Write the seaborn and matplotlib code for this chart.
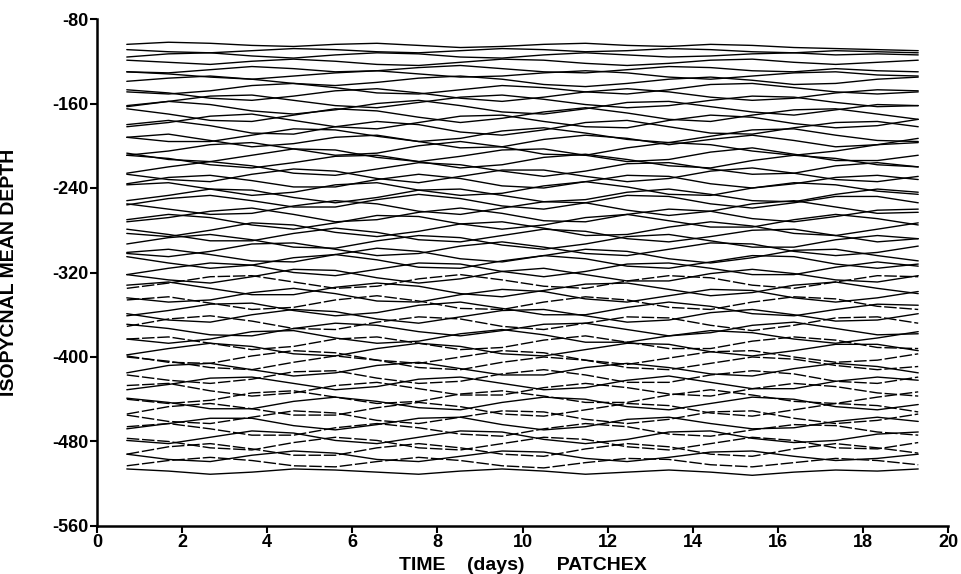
import matplotlib
matplotlib.use("Agg")
import matplotlib.pyplot as plt
import pandas as pd
import seaborn as sns

# ---------------- data ----------------
days = [0.7, 1.68, 2.66, 3.64, 4.62, 5.6, 6.58, 7.56, 8.54, 9.52,
        10.5, 11.48, 12.46, 13.44, 14.42, 15.4, 16.38, 17.36, 18.34, 19.3]

upper_means = [-104, -110, -115, -121, -127, -133, -139, -146, -152, -158, -164,
               -171, -177, -183, -190, -196, -203, -209, -215, -222, -228, -234]
upper_dev = [
    [0, 2, 1, -1, -2, 0, 1, -1, -3, -2, 0, 1, -1, -2, 0, -1, -3, -4, -5, -6],
    [1, -1, -2, 0, 2, 1, -1, -2, 0, 2, 1, -1, 0, 2, 1, -1, -2, 0, -1, -2],
    [-1, 2, 3, 0, -2, 1, 3, 2, -1, -2, 1, 3, 1, -1, 0, 2, 3, 1, 2, 1],
    [2, 0, -2, 1, 3, 1, -2, -3, 0, 3, 2, -1, -3, -1, 2, 3, 0, -2, 0, 2],
    [-3, -4, -1, 2, 0, -3, -2, 1, 3, 0, -3, -4, -1, 2, 1, -2, -3, 0, -2, -3],
    [3, 1, -2, -4, -1, 2, 4, 1, -2, -1, 2, 4, 2, -2, -4, -1, 2, 3, 0, -1],
    [0, 3, 5, 2, -2, -4, -1, 3, 5, 2, -3, -5, -2, 2, 4, 1, -3, -2, 2, 4],
    [-3, -5, -2, 3, 5, 1, -4, -5, -1, 3, 1, -3, -5, -1, 4, 5, 1, -3, -5, -3],
    [5, 2, -3, -5, -1, 4, 6, 2, -3, -6, -2, 3, 6, 3, -2, -5, -3, 2, 5, 4],
    [-4, 0, 5, 6, 1, -4, -6, -1, 4, 6, 2, -3, -6, -4, 1, 5, 4, -1, -5, -4],
    [1, 6, 3, -3, -6, -2, 4, 7, 2, -4, -6, -1, 5, 6, 1, -4, -7, -2, 3, 2],
    [6, 1, -5, -6, 0, 6, 4, -2, -7, -3, 3, 7, 2, -4, -6, 0, 5, 6, 1, -4],
    [-5, -1, 5, 7, 1, -5, -7, -1, 5, 6, 0, -5, -6, 1, 6, 4, -2, -6, -4, 2],
    [3, 7, 2, -5, -6, 1, 6, 3, -4, -7, -2, 5, 7, 1, -5, -6, 0, 5, 6, 1],
    [-2, -6, -6, 0, 6, 5, -1, -6, -3, 4, 7, 2, -4, -7, -1, 5, 6, 0, -5, -6],
    [4, 7, 1, -5, -2, 4, 6, 0, -6, -5, 2, 6, 3, -3, 2, 6, 1, -5, -3, 3],
    [-6, -2, 4, 6, 0, -6, -4, 3, 7, 2, -5, -6, 1, 6, 4, -2, -6, -2, 4, 6],
    [2, -4, -6, 0, 6, 5, -2, -6, -1, 5, 6, 0, -6, -4, 3, 7, 1, -5, -5, 0],
    [6, 3, -3, -6, -1, 5, 6, 0, -6, -3, 4, 7, 2, -4, -6, 1, 6, 3, -3, -5],
    [-4, 2, 7, 3, -4, -6, 0, 6, 4, -2, -7, -2, 5, 6, 0, -5, -4, 3, 6, 2],
    [1, -4, -6, 1, 6, 4, -3, -7, -1, 5, 5, -1, -6, -3, 4, 7, 2, -4, -6, -1],
    [-2, 4, 6, 1, -5, -5, 2, 7, 3, -4, -6, 0, 6, 5, -2, -6, -2, 4, 6, 2],
]

middle_means = [-241, -247, -253, -259, -266, -272, -279, -285, -291, -298, -304,
                -310, -317, -323, -329, -336, -342, -349, -355, -361, -368, -374]
middle_dev = [
    [4, 6, 0, -6, -3, 4, 6, -1, -6, -4, 3, 7, 2, -5, -6, 1, 6, 4, -2, -5],
    [-5, 0, 6, 5, -2, -7, -2, 5, 6, 0, -6, -4, 3, 6, 1, -5, -6, 1, 6, 3],
    [-3, 3, 6, 1, -5, -5, 2, 7, 3, -4, -7, -1, 6, 5, -2, -6, -1, 5, 5, -1],
    [4, -1, -6, -5, 2, 7, 4, -3, -6, 0, 6, 5, -2, -7, -3, 4, 7, 1, -5, -4],
    [-6, -2, 4, 7, 1, -6, -4, 3, 7, 2, -5, -6, 1, 6, 4, -3, -6, -1, 5, 6],
    [2, 7, 4, -3, -7, -1, 6, 5, -2, -7, -3, 4, 7, 1, -5, -5, 2, 7, 3, -3],
    [-4, -7, -1, 6, 4, -3, -7, -2, 5, 7, 1, -6, -5, 2, 7, 3, -4, -6, 0, 6],
    [6, 1, -5, -5, 2, 7, 3, -4, -6, 0, 6, 4, -3, -6, -1, 5, 6, 0, -6, -3],
    [-2, 4, 7, 2, -5, -6, 1, 6, 4, -3, -7, -2, 5, 7, 1, -5, -5, 2, 6, 3],
    [-4, -7, -2, 5, 6, 0, -6, -4, 3, 7, 2, -4, -6, 0, 6, 5, -2, -6, -3, 3],
    [3, 6, 1, -5, -6, 1, 7, 4, -3, -6, 0, 6, 4, -3, -7, -2, 5, 6, 0, -5],
    [5, -1, -6, -3, 4, 7, 2, -5, -6, 1, 6, 3, -4, -6, 0, 6, 5, -2, -6, -2],
    [-5, 1, 6, 4, -3, -6, 0, 6, 5, -2, -7, -2, 5, 6, 1, -5, -5, 2, 7, 3],
    [1, -4, -7, -1, 6, 5, -2, -7, -3, 4, 7, 1, -5, -5, 2, 6, 2, -4, -6, 0],
    [-6, -1, 5, 6, 0, -6, -4, 3, 7, 2, -4, -6, 1, 6, 4, -3, -6, 0, 6, 5],
    [4, 7, 1, -5, -5, 2, 6, 3, -4, -7, -1, 5, 6, 0, -6, -3, 4, 7, 1, -4],
    [-2, -6, -4, 3, 7, 2, -5, -6, 1, 6, 4, -3, -6, 0, 6, 5, -2, -6, -2, 4],
    [3, 6, 0, -6, -4, 3, 7, 2, -5, -6, 1, 6, 3, -4, -6, 1, 6, 4, -3, -6],
    [-6, -1, 5, 6, -1, -6, -3, 4, 7, 1, -5, -5, 2, 7, 3, -4, -6, 0, 5, 4],
    [2, -4, -6, 1, 6, 4, -3, -7, -1, 5, 6, 0, -6, -4, 3, 6, 1, -5, -4, 2],
    [-3, 4, 7, 2, -5, -6, 1, 6, 4, -3, -6, 0, 6, 5, -2, -7, -2, 5, 6, 0],
    [5, 1, -5, -6, 1, 6, 4, -2, -6, -1, 5, 6, 0, -6, -3, 4, 7, 1, -5, -4],
]

lower_means = [-381, -387, -393, -400, -406, -412, -419, -425, -431, -438, -444,
               -450, -457, -463, -469, -476, -482, -488, -494, -500, -506]
lower_dev = [
    [-2, -6, -2, 5, 6, -1, -6, -4, 3, 7, 2, -5, -5, 1, 6, 4, -2, -6, -1, 5],
    [4, 6, 0, -6, -3, 4, 6, 0, -6, -4, 3, 7, 1, -5, -5, 2, 6, 3, -4, -5],
    [-5, 1, 6, 3, -4, -6, 1, 6, 3, -4, -6, 0, 6, 5, -2, -6, -1, 5, 5, -1],
    [1, -5, -6, 1, 6, 4, -3, -6, 0, 6, 4, -3, -7, -1, 5, 6, 0, -5, -3, 3],
    [6, 2, -4, -6, 1, 7, 3, -4, -6, 1, 6, 3, -4, -6, 0, 6, 4, -2, -6, -3],
    [-3, 4, 6, 0, -6, -3, 4, 7, 1, -5, -5, 2, 6, 2, -4, -6, 1, 6, 3, -3],
    [2, -3, -6, -2, 5, 6, -1, -6, -4, 3, 7, 2, -5, -5, 2, 6, 3, -4, -6, 0],
    [-6, -1, 5, 6, 0, -6, -3, 4, 6, 0, -6, -4, 3, 7, 1, -5, -5, 2, 6, 3],
    [4, 6, -1, -6, -3, 4, 7, 1, -5, -5, 2, 6, 2, -4, -6, 1, 6, 3, -3, -6],
    [-2, -6, -3, 4, 6, 0, -6, -4, 3, 6, 1, -5, -5, 2, 7, 2, -4, -6, 0, 5],
    [5, 1, -5, -5, 2, 6, 2, -4, -6, 1, 6, 4, -3, -6, 0, 6, 4, -3, -6, -1],
    [-4, 3, 6, 1, -5, -5, 2, 7, 3, -4, -6, 0, 6, 4, -3, -6, 0, 6, 4, -2],
    [2, -4, -6, 0, 6, 4, -3, -6, 0, 6, 5, -2, -6, -2, 5, 6, -1, -6, -3, 3],
    [-5, 0, 5, 5, -2, -6, -1, 5, 6, -1, -6, -3, 4, 6, 0, -5, -4, 2, 6, 2],
    [3, 6, 1, -5, -5, 2, 6, 2, -4, -6, 1, 6, 3, -4, -6, 0, 5, 4, -2, -5],
    [-3, -6, 0, 6, 4, -3, -6, 0, 6, 5, -2, -6, -2, 5, 6, -1, -5, -3, 3, 5],
    [5, 2, -4, -6, 1, 6, 3, -4, -6, 0, 6, 4, -3, -6, 0, 6, 3, -4, -5, 1],
    [-4, 3, 6, 1, -5, -5, 2, 6, 2, -4, -6, 1, 6, 3, -4, -6, 1, 6, 2, -3],
    [2, -3, -5, 1, 5, 3, -3, -5, 0, 5, 4, -2, -5, -1, 4, 5, 0, -4, -2, 2],
    [-3, 2, 5, 2, -3, -4, 1, 5, 2, -3, -5, 0, 4, 3, -2, -4, 0, 4, 2, -2],
    [0, -2, -5, -3, 0, -1, -3, -5, -2, 0, -2, -5, -3, -1, -3, -6, -3, -1, -2, 0],
]

# line styles (solid / broken trace)
upper_kind = ["solid"] * len(upper_means)
middle_kind = ["solid"] * 14 + ["dash", "solid", "solid", "dash", "solid", "solid", "dash", "solid"]
lower_kind = ["solid", "dash", "solid", "dash", "dash", "solid", "dash", "solid", "dash", "dash",
              "solid", "dash", "dash", "solid", "dash", "solid", "dash", "dash", "solid", "dash", "solid"]

# ---------------- build long table ----------------
records = []
for name, means, devs, kinds in [("u", upper_means, upper_dev, upper_kind),
                                 ("m", middle_means, middle_dev, middle_kind),
                                 ("l", lower_means, lower_dev, lower_kind)]:
    for k, (m, dv, kd) in enumerate(zip(means, devs, kinds)):
        for t, d in zip(days, dv):
            records.append({"line": f"{name}{k}", "time": t, "depth": m + d, "kind": kd})
df = pd.DataFrame(records)

# ---------------- plot ----------------
sns.set_style("ticks")
plt.rcParams["font.family"] = ["Liberation Sans", "DejaVu Sans"]
plt.rcParams["axes.unicode_minus"] = False

fig = plt.figure(figsize=(9.62, 5.74), dpi=100)
ax = fig.add_axes([97 / 962, 48 / 574, 851 / 962, 507 / 574])

sns.lineplot(data=df, x="time", y="depth", units="line", estimator=None,
             style="kind", dashes={"solid": "", "dash": (9, 2)},
             color="black", lw=1.0, legend=False, sort=False, ax=ax)

ax.set_xlim(0, 20)
ax.set_ylim(-560, -80)
ax.set_xticks(list(range(0, 21, 2)))
ax.set_yticks(list(range(-560, -79, 80)))
sns.despine(ax=ax)
for s in ("left", "bottom"):
    ax.spines[s].set_linewidth(1.8)
    ax.spines[s].set_color("black")
ax.tick_params(direction="out", length=5, width=1.5, labelsize=13, pad=1, colors="black")
for lab in ax.get_xticklabels() + ax.get_yticklabels():
    lab.set_fontweight("bold")

ax.set_xlabel("TIME    (days)      PATCHEX", fontsize=14, color="black", fontweight="bold")
ax.set_ylabel("ISOPYCNAL MEAN DEPTH", fontsize=14, color="black", fontweight="bold")
ax.xaxis.set_label_coords(0.5, -0.062)
ax.yaxis.set_label_coords(-0.093, 0.5)

fig.savefig("out.png", dpi=100)
